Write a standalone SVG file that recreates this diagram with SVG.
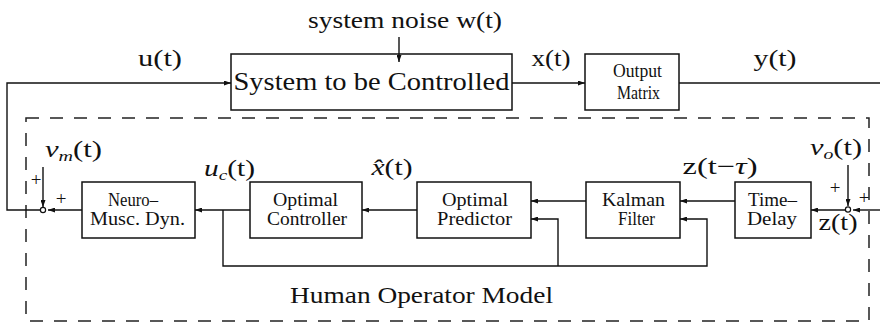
<svg xmlns="http://www.w3.org/2000/svg" width="880" height="323" viewBox="0 0 880 323">
  <defs>
    <marker id="ah" viewBox="0 0 7 5" refX="7" refY="2.5" markerWidth="7" markerHeight="5" markerUnits="userSpaceOnUse" orient="auto">
      <path d="M0,0 L7,2.5 L0,5 z" fill="#111"/>
    </marker>
  </defs>
  <style>
    text { font-family: "Liberation Serif", "Times New Roman", serif; fill: #111; }
    .lbl { font-size: 23px; text-anchor: middle; }
    .it { font-style: italic; }
    .box rect { fill: #fff; stroke: #111; stroke-width: 1.5; }
    .bt { font-size: 19.5px; text-anchor: middle; }
    .w { stroke: #111; stroke-width: 1.4; fill: none; }
    .a { marker-end: url(#ah); }
    .dash { fill: none; stroke: #222; stroke-width: 1.5; stroke-dasharray: 13 11; }
    .sum { fill: #fff; stroke: #111; stroke-width: 1.2; }
    .pm { font-size: 19px; text-anchor: middle; }
  </style>
  <rect width="880" height="323" fill="#fff"/>

  <!-- human operator boundary -->
  <g id="human-operator-model">
    <rect class="dash" x="26" y="118" width="843" height="203"/>
    <text x="421.5" y="303" font-size="23.5" text-anchor="middle" textLength="263" lengthAdjust="spacingAndGlyphs">Human Operator Model</text>
  </g>

  <!-- blocks -->
  <g id="system" class="box">
    <rect x="231" y="54" width="281" height="56"/>
    <text x="371.5" y="90" font-size="26" text-anchor="middle" textLength="276" lengthAdjust="spacingAndGlyphs">System to be Controlled</text>
  </g>
  <g id="output-matrix" class="box">
    <rect x="585" y="54" width="94" height="56"/>
    <text class="bt" x="637.5" y="77" textLength="49" lengthAdjust="spacingAndGlyphs">Output</text>
    <text class="bt" x="638.5" y="99" textLength="43" lengthAdjust="spacingAndGlyphs">Matrix</text>
  </g>
  <g id="neuromuscular" class="box">
    <rect x="82" y="182" width="113" height="56"/>
    <text class="bt" x="133" y="206" textLength="50" lengthAdjust="spacingAndGlyphs">Neuro–</text>
    <text class="bt" x="137.5" y="225" textLength="95" lengthAdjust="spacingAndGlyphs">Musc. Dyn.</text>
  </g>
  <g id="optimal-controller" class="box">
    <rect x="250" y="182" width="112" height="56"/>
    <text class="bt" x="305.5" y="206" textLength="65" lengthAdjust="spacingAndGlyphs">Optimal</text>
    <text class="bt" x="307" y="225" textLength="80" lengthAdjust="spacingAndGlyphs">Controller</text>
  </g>
  <g id="optimal-predictor" class="box">
    <rect x="417" y="182" width="114" height="56"/>
    <text class="bt" x="475" y="206" textLength="66" lengthAdjust="spacingAndGlyphs">Optimal</text>
    <text class="bt" x="474.5" y="225" textLength="75" lengthAdjust="spacingAndGlyphs">Predictor</text>
  </g>
  <g id="kalman-filter" class="box">
    <rect x="586" y="182" width="94" height="56"/>
    <text class="bt" x="633.5" y="206" textLength="63" lengthAdjust="spacingAndGlyphs">Kalman</text>
    <text class="bt" x="636.5" y="225" textLength="37" lengthAdjust="spacingAndGlyphs">Filter</text>
  </g>
  <g id="time-delay" class="box">
    <rect x="735" y="182" width="76" height="56"/>
    <text class="bt" x="772.5" y="206" textLength="49" lengthAdjust="spacingAndGlyphs">Time–</text>
    <text class="bt" x="772" y="225" textLength="50" lengthAdjust="spacingAndGlyphs">Delay</text>
  </g>

  <!-- connectors -->
  <g id="connectors">
    <polyline class="w a" points="40,210 7,210 7,83 231,83"/>
    <line class="w a" x1="399" y1="37" x2="399" y2="62"/>
    <line class="w a" x1="512" y1="83" x2="585" y2="83"/>
    <line class="w" x1="679" y1="83" x2="882" y2="83"/>
    <line class="w a" x1="882" y1="210" x2="853" y2="210"/>
    <line class="w a" x1="848" y1="165" x2="848" y2="206"/>
    <line class="w a" x1="845" y1="210" x2="811" y2="210"/>
    <line class="w a" x1="735" y1="201" x2="680" y2="201"/>
    <line class="w a" x1="586" y1="201" x2="531" y2="201"/>
    <line class="w a" x1="417" y1="210" x2="362" y2="210"/>
    <line class="w a" x1="250" y1="210" x2="195" y2="210"/>
    <line class="w a" x1="82" y1="210" x2="48" y2="210"/>
    <line class="w a" x1="43" y1="167" x2="43" y2="207"/>
    <polyline class="w a" points="223,210 223,266 707,266 707,219 680,219"/>
    <polyline class="w a" points="558,266 558,219 531,219"/>
  </g>

  <!-- summing junctions -->
  <g id="sum-motor"><circle class="sum" cx="43" cy="210" r="2.6"/></g>
  <g id="sum-observation"><circle class="sum" cx="848" cy="209.5" r="2.6"/></g>

  <!-- signal labels -->
  <g id="signal-labels">
    <text class="lbl" x="160" y="66" textLength="44" lengthAdjust="spacingAndGlyphs">u(t)</text>
    <text class="lbl" x="405" y="28" textLength="194" lengthAdjust="spacingAndGlyphs">system noise w(t)</text>
    <text class="lbl" x="551" y="66" textLength="39" lengthAdjust="spacingAndGlyphs">x(t)</text>
    <text class="lbl" x="775" y="66" textLength="43" lengthAdjust="spacingAndGlyphs">y(t)</text>
    <text class="lbl" x="73.5" y="157" textLength="57" lengthAdjust="spacingAndGlyphs"><tspan class="it">v</tspan><tspan class="it" font-size="15" dy="4">m</tspan><tspan dy="-4">(t)</tspan></text>
    <text class="lbl" x="229.5" y="176" textLength="51" lengthAdjust="spacingAndGlyphs"><tspan class="it">u</tspan><tspan class="it" font-size="15" dy="4">c</tspan><tspan dy="-4">(t)</tspan></text>
    <text class="lbl" x="392" y="175" textLength="41" lengthAdjust="spacingAndGlyphs"><tspan class="it">x̂</tspan>(t)</text>
    <text class="lbl" x="720" y="174" textLength="75" lengthAdjust="spacingAndGlyphs">z(t−<tspan class="it">τ</tspan>)</text>
    <text class="lbl" x="836" y="155" textLength="52" lengthAdjust="spacingAndGlyphs"><tspan class="it">v</tspan><tspan class="it" font-size="15" dy="4">o</tspan><tspan dy="-4">(t)</tspan></text>
    <text class="lbl" x="838" y="230" textLength="39" lengthAdjust="spacingAndGlyphs">z(t)</text>
    <text class="pm" x="36" y="186">+</text>
    <text class="pm" x="61" y="205">+</text>
    <text class="pm" x="835" y="194">+</text>
    <text class="pm" x="864" y="204">+</text>
  </g>
</svg>
